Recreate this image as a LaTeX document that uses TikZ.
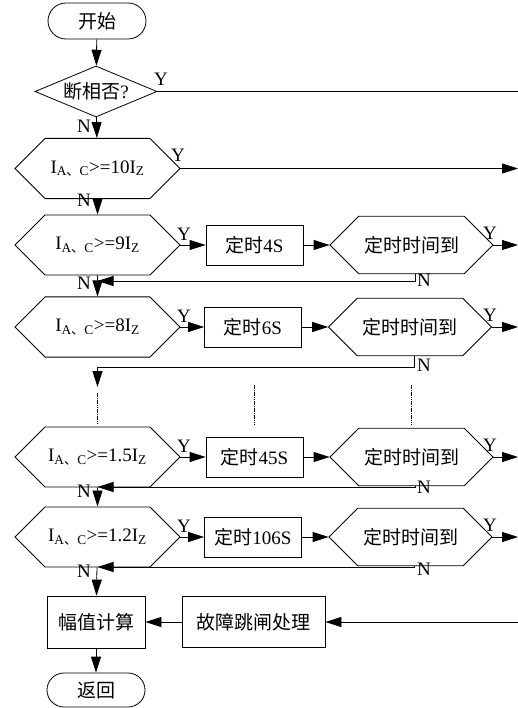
\documentclass[tikz,border=0pt]{standalone}
\usepackage{fontspec}
\setmainfont{Liberation Serif}
\newfontfamily\cjk{Noto Sans CJK SC}
\usetikzlibrary{arrows.meta,shapes.geometric,shapes.misc,calc}
\newcommand\IAC{I\textsubscript{A{\cjk 、}C}}
\newcommand\IZ{I\textsubscript{Z}}
\begin{document}
\begin{tikzpicture}[x=1pt,y=-1pt,
  base/.style={draw, line width=0.8pt, font=\fontsize{19}{22}\selectfont, inner sep=0pt},
  term/.style={base, rounded rectangle, minimum width=98pt, minimum height=36pt},
  dec/.style={base, diamond, aspect=2.4, minimum width=122pt, minimum height=51pt},
  hexa/.style={base, chamfered rectangle, chamfered rectangle xsep=28pt, chamfered rectangle ysep=22pt, minimum width=165pt, minimum height=44pt},
  thex/.style={base, chamfered rectangle, chamfered rectangle xsep=27pt, chamfered rectangle ysep=20pt, minimum width=163pt, minimum height=40pt},
  box/.style={base, rectangle},
  arr/.style={line width=0.8pt, -{Triangle[length=16pt,width=10pt]}},
  ln/.style={line width=0.8pt},
  lab/.style={font=\fontsize{19}{22}\selectfont, inner sep=0pt},
  dots/.style={line width=1pt, dash pattern=on 1.6pt off 0.7pt}]
\useasboundingbox (0,0) rectangle (518,708);

% main column
\node[term] (start) at (97,21) {{\cjk 开始}};
\node[dec] (d0) at (96,91.5) {{\cjk 断相否}?};
\node[hexa] (h1) at (97.5,168.5) {\IAC>=10\IZ};
\node[hexa] (h2) at (97.5,245) {\IAC>=9\IZ};
\node[hexa] (h3) at (97.5,327) {\IAC>=8\IZ};
\node[hexa] (h4) at (97.5,457) {\IAC>=1.5\IZ};
\node[hexa] (h5) at (97.5,537) {\IAC>=1.2\IZ};
\node[box, minimum width=98pt, minimum height=52pt] (f) at (96,622) {{\cjk 幅值计算}};
\node[box, minimum width=143pt, minimum height=51pt] (g) at (253.5,622) {{\cjk 故障跳闸处理}};
\node[term, minimum height=34pt] (ret) at (96,690) {{\cjk 返回}};

% timers
\node[box, minimum width=97pt, minimum height=40pt] (b2) at (254.5,245) {{\cjk 定时}4S};
\node[box, minimum width=97pt, minimum height=40pt] (b3) at (253,327) {{\cjk 定时}6S};
\node[box, minimum width=97pt, minimum height=40pt] (b4) at (254.5,457) {{\cjk 定时}45S};
\node[box, minimum width=97pt, minimum height=40pt] (b5) at (253,537) {{\cjk 定时}106S};
\node[thex] (t2) at (411.5,245) {{\cjk 定时时间到}};
\node[thex] (t3) at (410,327) {{\cjk 定时时间到}};
\node[thex] (t4) at (411.5,457) {{\cjk 定时时间到}};
\node[thex] (t5) at (410.5,537) {{\cjk 定时时间到}};

% free ends
\coordinate (e0) at (518,91.5);
\coordinate (e1) at (518,168.5);
\coordinate (e2) at (518,245);
\coordinate (e3) at (518,327);
\coordinate (e4) at (518,457);
\coordinate (e5) at (518,537);
\coordinate (eg) at (518,622);
\coordinate (j2) at (97.5,281);
\coordinate (j3) at (97.5,367);
\coordinate (c3) at (97.5,387);
\coordinate (j4) at (97.5,487);
\coordinate (j5) at (97.5,567);
\coordinate (v1a) at (97.5,393);  \coordinate (v1b) at (97.5,423);
\coordinate (v2a) at (254,385);   \coordinate (v2b) at (254,425);
\coordinate (v3a) at (411,385);   \coordinate (v3b) at (411,425);

% connectors main column
\draw[arr] (start) -- (d0);
\draw[arr] (d0) -- (h1);
\draw[arr] (h1) -- (h2);
\draw[arr] (h2) -- (h3);
\draw[arr] (h4) -- (h5);
\draw[arr] (h5) -- (f);
\draw[arr] (f) -- (ret);
\draw[arr] (g) -- (f);
\draw[arr] (eg) -- (g);

% Y branches
\draw[ln] (d0.east) -- (e0);
\draw[arr] (h1.east) -- (e1);
\foreach \i in {2,3,4,5}{
  \draw[arr] (h\i.east) -- (b\i);
  \draw[arr] (b\i) -- (t\i.west);
  \draw[arr] (t\i.east) -- (e\i);
}

% N branches of timers
\draw[arr] ([xshift=4pt]t2.south) |- (j2);
\draw[arr] ([xshift=4pt]t3.south) |- (j3) -- (c3);
\draw[arr] ([xshift=4pt]t4.south) |- (j4);
\draw[arr] ([xshift=4pt]t5.south) |- (j5);

% dotted continuation
\draw[dots] (v1a) -- (v1b);
\draw[dots] (v2a) -- (v2b);
\draw[dots] (v3a) -- (v3b);

% labels
\node[lab] (y0) at (161,79) {Y};
\node[lab] (y1) at (178,155) {Y};
\foreach \i/\r in {2/245,3/327,4/457,5/537}{
  \node[lab] (yl\i) at (184,\r-11) {Y};
  \node[lab] (yr\i) at (490,\r-12) {Y};
}
\node[lab] (n0) at (84,126) {N};
\node[lab] (n1) at (84,200) {N};
\node[lab] (n2) at (84,283) {N};
\node[lab] (n4) at (84,491) {N};
\node[lab] (n5) at (84,571) {N};
\node[lab] (nr2) at (424,280) {N};
\node[lab] (nr3) at (424,365) {N};
\node[lab] (nr4) at (424,487) {N};
\node[lab] (nr5) at (424,569) {N};
\end{tikzpicture}
\end{document}
